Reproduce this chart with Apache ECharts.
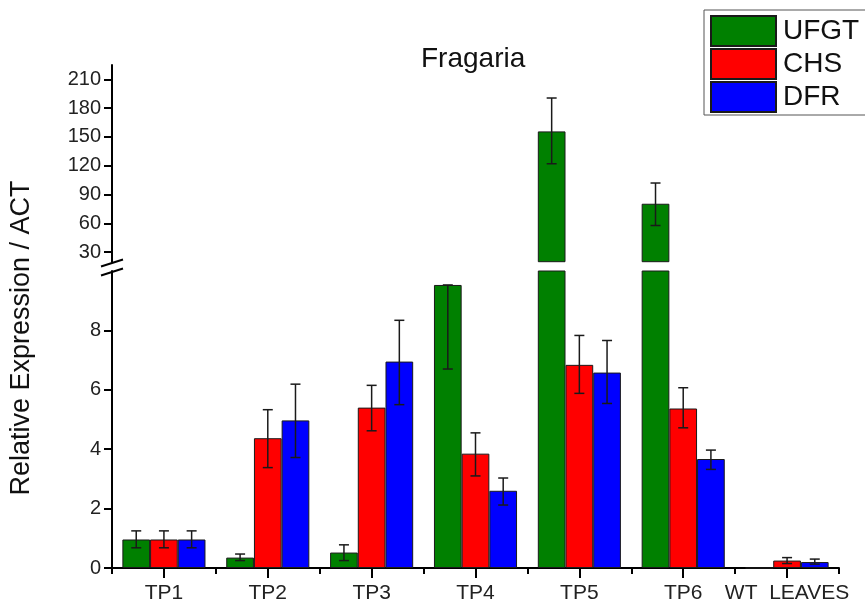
<!DOCTYPE html>
<html>
<head>
<meta charset="utf-8">
<script src="https://cdn.jsdelivr.net/npm/echarts@6/dist/echarts.min.js"></script>
<style>html,body{margin:0;padding:0;background:#fff}#c{width:865px;height:604px}</style>
</head>
<body>
<div id="c"></div>
<script>
const categories = ['TP1', 'TP2', 'TP3', 'TP4', 'TP5', 'TP6', 'WT  LEAVES'];
const seriesNames = ['UFGT', 'CHS', 'DFR'];
const ufgt = [0.96, 0.35, 0.52, 9.53, 155.8, 80.4, 0];
const chs  = [0.96, 4.37, 5.40, 3.85, 6.84, 5.37, 0.25];
const dfr  = [0.96, 4.97, 6.95, 2.60, 6.58, 3.67, 0.20];
const ufgtErrLow  = [0.68, 0.25, 0.25, 6.70, 122.1, 57.7, null];
const ufgtErrHigh = [1.25, 0.47, 0.78, 9.53, 190.6, 102.0, null];
const chsErrLow   = [0.68, 3.38, 4.62, 3.10, 5.88, 4.72, 0.15];
const chsErrHigh  = [1.25, 5.33, 6.15, 4.55, 7.83, 6.07, 0.35];
const dfrErrLow   = [0.68, 3.72, 5.50, 2.12, 5.54, 3.32, 0.13];
const dfrErrHigh  = [1.25, 6.19, 8.34, 3.03, 7.66, 3.97, 0.30];
const upperRange = [20, 225];
const lowerRange = [0, 10];
const upperTicks = [30, 60, 90, 120, 150, 180, 210];
const lowerTicks = [0, 2, 4, 6, 8];

const colors = ['#008000', '#ff0000', '#0000ff'];
const FONT = 'Liberation Sans, Arial, sans-serif';
const chart = echarts.init(document.getElementById('c'));

const values = [ufgt, chs, dfr];
const errLows = [ufgtErrLow, chsErrLow, dfrErrLow];
const errHighs = [ufgtErrHigh, chsErrHigh, dfrErrHigh];

function errSeries(slot, gi) {
  const data = [];
  categories.forEach((c, i) => {
    if (errLows[slot][i] != null) data.push([i, errLows[slot][i], errHighs[slot][i]]);
  });
  return {
    type: 'custom', name: 'err' + slot + '_' + gi,
    xAxisIndex: gi, yAxisIndex: gi, z: 5, silent: true,
    data: data,
    renderItem: function (params, api) {
      const cs = params.coordSys;
      const i = api.value(0);
      const pLow = api.coord([i, api.value(1)]);
      const pHigh = api.coord([i, api.value(2)]);
      const band = api.size([1, 0])[0];
      const bw = band * 0.8 / 3;
      const x = pLow[0] + (slot - 1) * bw;
      const top = cs.y, bottom = cs.y + cs.height;
      const y1 = pHigh[1], y2 = pLow[1];
      if (y1 > bottom || y2 < top) return null;
      const st = { stroke: '#1a1a1a', lineWidth: 1.5 };
      const children = [{
        type: 'line',
        shape: { x1: x, y1: Math.max(y1, top), x2: x, y2: Math.min(y2, bottom) },
        style: st
      }];
      const cap = 5;
      if (y1 >= top) children.push({ type: 'line', shape: { x1: x - cap, y1: y1, x2: x + cap, y2: y1 }, style: st });
      if (y2 <= bottom) children.push({ type: 'line', shape: { x1: x - cap, y1: y2, x2: x + cap, y2: y2 }, style: st });
      return { type: 'group', children: children };
    }
  };
}

const series = [];
seriesNames.forEach((name, s) => {
  series.push({
    type: 'bar', name: name, xAxisIndex: 1, yAxisIndex: 1,
    data: values[s], barGap: '0%', barCategoryGap: '20%',
    itemStyle: { color: colors[s], borderColor: '#1a1a1a', borderWidth: 1 },
    clip: true
  });
});
seriesNames.forEach((name, s) => {
  series.push({
    type: 'bar', name: name, xAxisIndex: 0, yAxisIndex: 0,
    data: values[s].map(v => v > upperRange[0] ? v : '-'), barGap: '0%', barCategoryGap: '20%',
    itemStyle: { color: colors[s], borderColor: '#1a1a1a', borderWidth: 1 },
    clip: true
  });
});
for (let s = 0; s < 3; s++) { series.push(errSeries(s, 1)); series.push(errSeries(s, 0)); }

const axisLineStyle = { color: '#000', width: 2 };
const labelStyle = { color: '#222', fontSize: 20, fontFamily: FONT };

const option = {
  animation: false,
  backgroundColor: '#fff',
  title: {
    text: 'Fragaria', left: 416, top: 40,
    textStyle: { fontFamily: FONT, fontSize: 28, fontWeight: 'normal', color: '#111' }
  },
  legend: {
    data: seriesNames, orient: 'vertical', left: 704, top: 10,
    padding: [5, 12, 2, 6], itemWidth: 65, itemHeight: 30, itemGap: 1,
    icon: 'rect', borderColor: '#555', borderWidth: 1,
    textStyle: { fontFamily: FONT, fontSize: 28, color: '#111', lineHeight: 30, padding: [0, 0, 0, 2] }
  },
  grid: [
    { left: 112, top: 65, width: 727, height: 196.7 },
    { left: 112, top: 271, width: 727, height: 297 }
  ],
  xAxis: [
    { type: 'category', gridIndex: 0, data: categories, show: false },
    {
      type: 'category', gridIndex: 1, data: categories, position: 'bottom',
      axisLine: { lineStyle: axisLineStyle },
      axisTick: { show: true, length: 6, lineStyle: { color: '#000', width: 2 } },
      axisLabel: { interval: 0, margin: 15, color: '#222', fontSize: 21, fontFamily: FONT }
    },
    {
      type: 'category', gridIndex: 1, data: categories, position: 'bottom',
      axisLine: { show: false },
      axisTick: { show: true, alignWithLabel: true, length: 10, lineStyle: { color: '#000', width: 2 } },
      axisLabel: { show: false }
    }
  ],
  yAxis: [
    {
      type: 'value', gridIndex: 0, min: upperRange[0], max: upperRange[1],
      axisLine: { show: true, lineStyle: axisLineStyle },
      axisTick: { show: true, length: 8, customValues: upperTicks, lineStyle: { color: '#000', width: 2 } },
      axisLabel: Object.assign({ margin: 11, customValues: upperTicks }, labelStyle),
      splitLine: { show: false }
    },
    {
      type: 'value', gridIndex: 1, min: lowerRange[0], max: lowerRange[1],
      axisLine: { show: true, lineStyle: axisLineStyle },
      axisTick: { show: true, length: 8, customValues: lowerTicks, lineStyle: { color: '#000', width: 2 } },
      axisLabel: Object.assign({ margin: 11, customValues: lowerTicks }, labelStyle),
      splitLine: { show: false }
    }
  ],
  graphic: [
    { type: 'line', shape: { x1: 101, y1: 266.5, x2: 123, y2: 259.5 }, style: { stroke: '#000', lineWidth: 2 } },
    { type: 'line', shape: { x1: 101, y1: 275.5, x2: 123, y2: 268.5 }, style: { stroke: '#000', lineWidth: 2 } },
    {
      type: 'text', x: 22, y: 338, rotation: Math.PI / 2,
      style: { text: 'Relative Expression / ACT', fontFamily: FONT, fontSize: 27, fill: '#111',
               textAlign: 'center', textVerticalAlign: 'middle' }
    }
  ],
  series: series
};
chart.setOption(option);
</script>
</body>
</html>
